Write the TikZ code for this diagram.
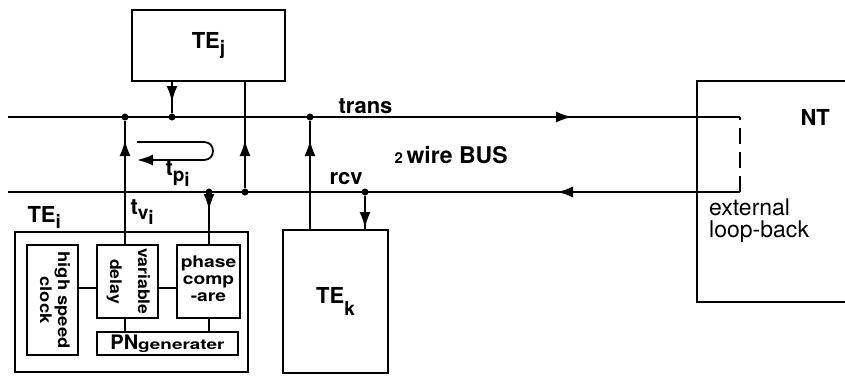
\documentclass[tikz,border=0pt]{standalone}
\usepackage{fontspec}
\setmainfont{TeX Gyre Heros}
\usetikzlibrary{arrows.meta,calc}
\newcommand\sbx[2]{\raisebox{-#1}{\fontsize{19}{19}\selectfont #2}}
\newcommand\wide[2][1.25]{\scalebox{#1}[1]{#2}}
\begin{document}
\begin{tikzpicture}[x=1pt,y=-1pt,
  ln/.style={line width=1.8pt},
  tipst/.style={line width=1.8pt, -{Latex[length=16pt,width=11pt]}},
  box/.style={draw, line width=2pt, inner sep=0pt, align=center},
  big/.style={font=\fontsize{22}{24}\selectfont\bfseries},
  reg/.style={font=\fontsize{23}{22}\selectfont},
  small/.style={font=\fontsize{16}{17}\selectfont\bfseries},
  dot/.style={circle, fill, inner sep=0pt, minimum size=7pt}
]
\useasboundingbox (0,0) rectangle (845,375);

% boxes
\node[box, big, minimum width=153pt, minimum height=71pt] (TEj) at (208.5,45.5) {TE\sbx{6pt}{j}};
\node[box, minimum width=233pt, minimum height=140pt] (TEi) at (131.5,302) {};
\node[box, small, minimum width=51pt, minimum height=110pt] (clock) at (52.5,300)
  {\rotatebox{-90}{\wide[1.15]{\begin{tabular}{@{}c@{}}high speed\\[1pt]clock\end{tabular}}}};
\node[box, small, minimum width=61pt, minimum height=73pt] (delay) at (127.5,281.5)
  {\rotatebox{-90}{\wide[1.1]{\begin{tabular}{@{}c@{}}variable\\[11pt]delay\end{tabular}}}};
\node[box, small, minimum width=63pt, minimum height=73pt] (phase) at (208.5,281.5)
  {\wide[1.2]{\begin{tabular}{@{}c@{}}phase\\comp\\-are\end{tabular}}};
\node[box, minimum width=141pt, minimum height=23pt] (PN) at (167.5,343.5)
  {\fontsize{20}{20}\selectfont\bfseries PN\wide[1.35]{\fontsize{14}{14}\selectfont generater}};
\node[box, big, minimum width=105pt, minimum height=143pt] (TEk) at (335.5,301.5) {TE\sbx{12pt}{k}};

% NT (open at the picture's right edge)
\draw[line width=2pt] (845,81) -- (697,81) -- (697,302) -- (845,302);
\node[big, anchor=base west] (NT) at (797,125) {NT};

% bus
\coordinate (tL) at (8,117);
\coordinate (tR) at (740,117);
\coordinate (rL) at (8,192);
\coordinate (rR) at (740,192);
\draw[ln] (tL) -- (tR);
\draw[ln] (rR) -- (rL);
\draw[ln, dash pattern=on 16pt off 8pt] (rR) -- (tR);
\draw[tipst] ($(tR)+(-182,0)$) -- ($(tR)+(-168,0)$);
\draw[tipst] ($(rR)+(-169,0)$) -- ($(rR)+(-183,0)$);

% taps
\node[dot] (d1) at (125,117) {};
\node[dot] (d2) at (172,117) {};
\node[dot] (d3) at (310,117) {};
\node[dot] (d4) at (245,192) {};
\node[dot] (d5) at (209,192) {};
\node[dot] (d6) at (365,192) {};

\draw[ln] (delay.north -| d1) -- (d1);
\draw[ln] (TEj.south -| d2) -- (d2);
\draw[ln] (d4) -- (TEj.south -| d4);
\draw[ln] (TEk.north -| d3) -- (d3);
\draw[ln] (d5) -- (phase.north -| d5);
\draw[ln] (d6) -- (TEk.north -| d6);
\draw[tipst] ($(d1)+(0,36)$) -- ($(d1)+(0,23)$);
\draw[tipst] ($(d2)+(0,-28)$) -- ($(d2)+(0,-15)$);
\draw[tipst] ($(d4)+(0,-39)$) -- ($(d4)+(0,-52)$);
\draw[tipst] ($(d3)+(0,36)$) -- ($(d3)+(0,23)$);
\draw[tipst] ($(d5)+(0,5)$) -- ($(d5)+(0,18)$);
\draw[tipst] ($(d6)+(0,23)$) -- ($(d6)+(0,36)$);

% internal links
\draw[ln] (clock.east |- 0,288) -- (delay.west |- 0,288);
\draw[ln] (delay.east |- 0,288) -- (phase.west |- 0,288);
\draw[ln] (delay.south -| d1) -- (PN.north -| d1);
\draw[ln] (phase.south -| d5) -- (PN.north -| d5);

% propagation loop
\draw[ln, -{Latex[length=16pt,width=11pt]}] (137,142) -- (204,142) .. controls (216,142) and (216,160) .. (204,160) -- (137,160);

% labels
\node[big, anchor=base west] (ltrans) at (335,113) {trans};
\node[big, anchor=base west] (lbus) at (391,163) {{\fontsize{15}{15}\selectfont 2}\,\fontsize{23}{24}\selectfont wire BUS};
\node[big, anchor=base west] (lrcv) at (326,184) {rcv};
\node[big, anchor=base west] (ltp) at (162,175) {t\sbx{6pt}{p\sbx{5pt}{i}}};
\node[big, anchor=base west] (lTEi) at (24,222) {TE\sbx{6pt}{i}};
\node[big, anchor=base west] (ltv) at (127,214) {t\sbx{5pt}{v\sbx{5pt}{i}}};
\node[reg, align=left, anchor=north west, inner sep=0pt] (ext) at (709,199) {external\\loop-back};
\end{tikzpicture}
\end{document}
